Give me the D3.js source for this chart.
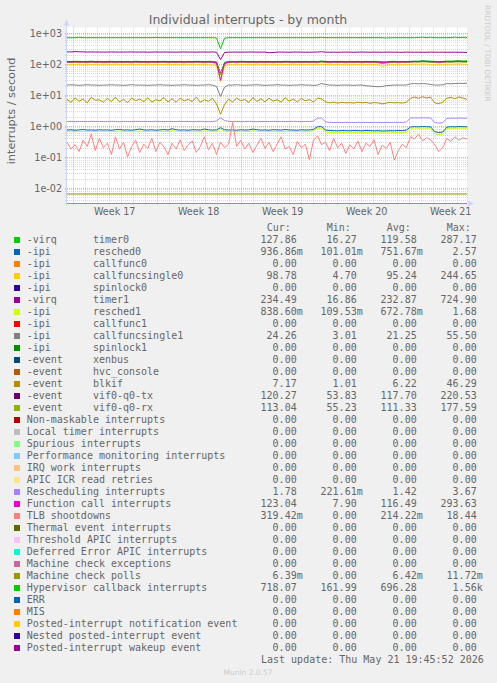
<!DOCTYPE html>
<html><head><meta charset="utf-8">
<script src="https://cdn.jsdelivr.net/npm/d3@7"></script>
<style>
html,body{margin:0;padding:0;background:#f0f0f0;}
svg{display:block;}
text{font-family:"DejaVu Sans",sans-serif;fill:#666;}
.mono{font-family:"DejaVu Sans Mono",monospace;font-size:10px;white-space:pre;}
</style></head><body><svg id="c" width="497" height="683"></svg>
<script>
// ---------------- DATA ----------------
const title = "Individual interrupts - by month";
const yLabel = "interrupts / second";
const weekLabels = ["Week 17","Week 18","Week 19","Week 20","Week 21"];
const yTickValues = [1e3,1e2,1e1,1e0,1e-1,1e-2];
const yTickLabels = ["1e+03","1e+02","1e+01","1e+00","1e-01","1e-02"];

const labels = [
"-virq      timer0","-ipi       resched0","-ipi       callfunc0","-ipi       callfuncsingle0",
"-ipi       spinlock0","-virq      timer1","-ipi       resched1","-ipi       callfunc1",
"-ipi       callfuncsingle1","-ipi       spinlock1","-event     xenbus","-event     hvc_console",
"-event     blkif","-event     vif0-q0-tx","-event     vif0-q0-rx","Non-maskable interrupts",
"Local timer interrupts","Spurious interrupts","Performance monitoring interrupts","IRQ work interrupts",
"APIC ICR read retries","Rescheduling interrupts","Function call interrupts","TLB shootdowns",
"Thermal event interrupts","Threshold APIC interrupts","Deferred Error APIC interrupts","Machine check exceptions",
"Machine check polls","Hypervisor callback interrupts","ERR","MIS",
"Posted-interrupt notification event","Nested posted-interrupt event","Posted-interrupt wakeup event"];

const colors = ["#00CC00","#0066B3","#FF8000","#FFCC00","#330099","#990099","#CCFF00","#FF0000",
"#808080","#008F00","#00487D","#B35A00","#B38F00","#6B006B","#8FB300","#B30000","#BEBEBE","#80FF80",
"#80C9FF","#FFC080","#FFE680","#AA80FF","#EE00CC","#FF8080","#666600","#FFBFFF","#00FFCC","#CC6699",
"#999900","#00CC00","#0066B3","#FF8000","#FFCC00","#330099","#990099"];

const curVals = ["127.86","936.86m","0.00","98.78","0.00","234.49","838.60m","0.00","24.26","0.00","0.00","0.00",
"7.17","120.27","113.04","0.00","0.00","0.00","0.00","0.00","0.00","1.78","123.04","319.42m","0.00","0.00","0.00",
"0.00","6.39m","718.07","0.00","0.00","0.00","0.00","0.00"];
const minVals = ["16.27","101.01m","0.00","4.70","0.00","16.86","109.53m","0.00","3.01","0.00","0.00","0.00",
"1.01","53.83","55.23","0.00","0.00","0.00","0.00","0.00","0.00","221.61m","7.90","0.00","0.00","0.00","0.00",
"0.00","0.00","161.99","0.00","0.00","0.00","0.00","0.00"];
const avgVals = ["119.58","751.67m","0.00","95.24","0.00","232.87","672.78m","0.00","21.25","0.00","0.00","0.00",
"6.22","117.70","111.33","0.00","0.00","0.00","0.00","0.00","0.00","1.42","116.49","214.22m","0.00","0.00","0.00",
"0.00","6.42m","696.28","0.00","0.00","0.00","0.00","0.00"];
const maxVals = ["287.17","2.57","0.00","244.65","0.00","724.90","1.68","0.00","55.50","0.00","0.00","0.00",
"46.29","220.53","177.59","0.00","0.00","0.00","0.00","0.00","0.00","3.67","293.63","18.44","0.00","0.00","0.00",
"0.00","11.72m","1.56k","0.00","0.00","0.00","0.00","0.00"];

// series samples, evenly spaced over the month window
const timer0Vals = [122,121,123,122,121,122,124,121,122,121, 122,123,121,122,121,122,121,123,122,121,
 121,122,121,122,123,121,122,121,122,121, 122,121,123,122,121,122,121,118,45,115,
 121,122,121,123,122,121,122,121,122,121, 122,121,122,121,123,122,121,122,121,122,
 121,122,121,126,122,121,122,121,122,121, 122,121,122,121,122,121,122,121,120,119,
 121,122,121,122,121,123,125,124,128,126, 124,122,121,122,125,124,126,127,125,128];
const resched0Vals = [0.74,0.76,0.73,0.75,0.77,0.74,0.75,0.73,0.76,0.74, 0.75,0.73,0.76,0.78,0.74,0.75,0.73,0.76,0.80,0.75,
 0.74,0.76,0.73,0.75,0.77,0.74,0.82,0.76,0.74,0.75, 0.73,0.76,0.75,0.74,0.80,0.76,0.74,0.75,0.88,0.76,
 0.74,0.75,0.73,0.76,0.74,0.75,0.80,0.76,0.74,0.75, 0.73,0.76,0.75,0.74,0.77,0.75,0.74,0.73,0.76,0.74,
 0.75,0.78,0.95,0.96,0.74,0.72,0.71,0.70,0.72,0.71, 0.70,0.72,0.71,0.70,0.72,0.71,0.70,0.71,0.69,0.70,
 0.71,0.70,0.72,0.71,0.74,0.93,0.95,0.94,0.96,0.95, 0.94,0.66,0.62,0.64,0.92,0.95,0.94,0.96,0.95,0.94];
const cfs0Vals = [96,95,97,94,96,93,98,95,96,94, 95,96,94,96,95,96,94,97,95,96,
 94,96,95,96,97,94,96,95,96,94, 96,95,97,96,94,96,95,88,27,85,
 95,96,94,97,96,95,96,94,96,95, 96,94,96,95,97,96,94,96,95,96,
 95,96,94,99,96,94,96,95,96,94, 96,95,96,94,96,95,96,94,85,90,
 95,96,94,96,95,97,100,98,101,99, 97,95,94,96,99,98,100,101,99,98];
const timer1Vals = [248,246,252,250,247,245,246,244,245,243, 244,246,245,243,244,245,246,243,244,245,
 242,244,246,243,245,244,243,242,244,245, 243,244,242,245,244,243,246,240,140,236,
 242,243,244,242,243,245,244,242,243,244, 232,236,243,244,242,241,243,244,242,241,
 242,243,244,250,242,241,243,240,242,243, 242,241,243,244,242,241,243,242,241,242,
 243,242,241,240,242,243,241,242,240,241, 243,242,241,242,240,241,242,240,241,235];
const resched1Vals = [0.66,0.67,0.65,0.68,0.66,0.67,0.65,0.67,0.66,0.68, 0.67,0.65,0.66,0.69,0.66,0.67,0.65,0.66,0.70,0.67,
 0.66,0.67,0.65,0.67,0.68,0.66,0.72,0.67,0.66,0.67, 0.65,0.67,0.66,0.65,0.70,0.67,0.66,0.66,0.80,0.67,
 0.66,0.67,0.65,0.67,0.66,0.67,0.71,0.67,0.66,0.67, 0.65,0.67,0.66,0.65,0.68,0.67,0.66,0.65,0.67,0.66,
 0.66,0.70,0.86,0.85,0.64,0.62,0.61,0.60,0.62,0.61, 0.60,0.62,0.61,0.60,0.62,0.61,0.60,0.61,0.59,0.60,
 0.61,0.60,0.62,0.61,0.64,0.84,0.86,0.85,0.85,0.84, 0.80,0.56,0.53,0.55,0.83,0.85,0.84,0.86,0.85,0.84];
const cfs1Vals = [21,21.5,21,20.5,21,21.5,21,21,20.5,21, 21,21.5,21,21,20.5,21,21.5,21,21,21,
 20.5,21,21,21.5,21,21,20.5,21,21,21.5, 21,21,20.5,21,21,21.5,21,19,9,18,
 21,21,21.5,21,20.5,21,21,21.5,21,20.5, 21,21,21.5,21,21,20.5,21,21,21.5,21,
 21,20.5,21,23.5,22,21,21,20.5,21,21, 21,20.5,21,21,20,19.5,19,18.5,19,20,
 20.5,21,21,21,21,23,23.5,23,23.5,23, 22,21,21,21.5,23.5,23,23.5,24,23.5,24.2];
const blkifVals = [7.2,5.8,8.1,6.3,7.5,5.6,8.4,6.8,7.0,5.9, 7.8,6.2,8.5,6.0,7.3,5.7,8.0,6.6,7.4,6.1,
 8.2,5.9,7.1,6.4,8.3,6.0,7.6,5.8,7.9,6.5, 7.3,6.1,8.6,5.9,7.0,6.3,7.8,5.2,2.4,5.0,
 7.4,6.0,8.0,6.5,7.2,5.8,8.3,6.2,7.6,6.0, 7.9,6.4,7.1,5.9,8.2,6.3,7.4,6.0,7.8,6.5,
 7.2,5.9,8.0,7.5,6.0,5.6,5.9,5.5,5.8,5.6, 5.7,5.5,5.9,5.6,5.8,5.4,5.7,5.6,5.2,5.5,
 5.8,5.6,5.7,5.5,5.9,7.8,8.6,7.9,8.8,8.1, 8.5,5.6,5.3,5.8,7.9,8.4,7.6,8.7,8.0,7.2];
const vifTxVals = [118,117,119,117,118,116,120,117,118,116, 117,118,116,118,117,118,116,119,117,118,
 116,118,117,118,119,116,118,117,118,116, 118,117,119,118,116,118,117,110,50,105,
 117,118,116,119,118,117,118,116,118,117, 118,116,118,117,119,118,116,118,117,118,
 117,118,116,121,118,116,118,117,118,116, 118,117,118,116,118,117,118,116,108,112,
 117,118,116,118,117,119,121,120,123,121, 119,117,116,118,121,120,122,123,121,120];
const vifRxVals = [112,111,113,111,112,110,114,111,112,110, 111,112,110,112,111,112,110,113,111,112,
 110,112,111,112,113,110,112,111,112,110, 112,111,113,112,110,112,111,105,48,100,
 111,112,110,113,112,111,112,110,112,111, 112,110,112,111,113,112,110,112,111,112,
 111,112,110,116,112,110,112,111,112,110, 112,111,112,110,112,111,112,110,104,108,
 111,112,110,112,111,114,116,115,118,116, 114,112,110,112,115,114,116,117,115,113];
const reschedVals = [1.40,1.42,1.38,1.41,1.40,1.39,1.42,1.40,1.41,1.39, 1.40,1.42,1.40,1.38,1.41,1.40,1.39,1.42,1.40,1.41,
 1.39,1.40,1.42,1.40,1.38,1.41,1.40,1.39,1.42,1.40, 1.41,1.39,1.40,1.42,1.40,1.38,1.41,1.45,1.85,1.50,
 1.42,1.40,1.41,1.39,1.40,1.42,1.40,1.38,1.41,1.40, 1.39,1.42,1.40,1.41,1.39,1.40,1.42,1.40,1.38,1.41,
 1.40,1.45,1.80,1.82,1.35,1.32,1.30,1.31,1.30,1.32, 1.31,1.30,1.32,1.30,1.31,1.30,1.32,1.31,1.30,1.31,
 1.30,1.32,1.31,1.30,1.35,1.80,1.84,1.82,1.85,1.83, 1.81,1.30,1.25,1.28,1.75,1.80,1.78,1.82,1.79,1.78];
const funcCallVals = [117,116,118,116,117,116,119,116,117,116, 116,117,116,117,116,117,116,118,116,117,
 116,117,116,117,118,116,117,116,117,116, 117,116,118,117,116,117,116,112,30,108,
 116,117,116,118,117,116,117,116,117,116, 117,116,117,116,118,117,116,117,116,117,
 116,117,116,120,117,116,117,116,117,116, 117,116,117,116,117,116,117,116,113,114,
 116,117,116,117,116,118,120,119,122,121, 119,117,116,117,120,119,121,122,120,123];
const tlbVals = [0.30,0.18,0.25,0.15,0.35,0.22,0.55,0.16,0.40,0.20, 0.28,0.12,0.45,0.18,0.30,0.10,0.22,0.35,0.14,0.26,
 0.19,0.40,0.15,0.30,0.21,0.12,0.28,0.18,0.36,0.16, 0.25,0.33,0.14,0.22,0.45,0.17,0.28,0.12,0.30,0.20,
 0.26,1.30,0.22,0.35,0.18,0.28,0.14,0.24,0.40,0.19, 0.30,0.15,0.26,0.45,0.18,0.22,0.12,0.32,0.20,0.26,
 0.08,0.35,0.48,0.25,0.30,0.16,0.40,0.20,0.28,0.13, 0.25,0.18,0.33,0.15,0.28,0.22,0.36,0.12,0.24,0.19,
 0.30,0.08,0.16,0.26,0.20,0.45,0.38,0.55,0.33,0.42, 0.36,0.25,0.15,0.20,0.40,0.32,0.45,0.35,0.42,0.38];
const mcpVals = [0.0064,0.0064,0.0064,0.0064,0.0064,0.0064,0.0064,0.0064,0.0064,0.0064];
const hyperVals = [712,712,712,735,712,712,712,712,712,712, 712,712,712,712,712,712,712,712,712,712,
 712,712,730,712,712,712,712,712,712,712, 712,712,712,712,712,712,712,700,310,690,
 712,712,712,712,712,712,712,712,712,712, 712,712,712,712,712,712,712,712,712,712,
 712,712,712,730,712,712,712,712,712,712, 712,712,712,712,712,712,712,712,712,695,
 712,712,712,712,712,712,712,725,740,712, 735,712,712,712,712,712,740,712,735,718];
const zeroVals = [0, 0];

// table built from the arrays above (legend order = drawing order)
const seriesData = [timer0Vals,resched0Vals,zeroVals,cfs0Vals,zeroVals,timer1Vals,resched1Vals,zeroVals,
 cfs1Vals,zeroVals,zeroVals,zeroVals,blkifVals,vifTxVals,vifRxVals,zeroVals,zeroVals,zeroVals,zeroVals,zeroVals,
 zeroVals,reschedVals,funcCallVals,tlbVals,zeroVals,zeroVals,zeroVals,zeroVals,mcpVals,hyperVals,
 zeroVals,zeroVals,zeroVals,zeroVals,zeroVals];

// ---------------- CHART ----------------
const svg = d3.select("#c");
svg.append("rect").attr("width",497).attr("height",683).attr("fill","#f0f0f0");

const P = {left:67, right:467, top:27.5, bottom:203.5};
const yMin = Math.pow(10,-2.5), yMax = Math.pow(10,3.18);
const tStart = new Date(Date.UTC(2026,3,19,12,36));
const tEnd = new Date(Date.UTC(2026,4,22,20,36));
const x = d3.scaleUtc().domain([tStart,tEnd]).range([P.left,P.right]);
const y = d3.scaleLog().domain([yMin,yMax]).range([P.bottom,P.top]).clamp(true);

svg.append("rect").attr("x",P.left).attr("y",P.top).attr("width",P.right-P.left).attr("height",P.bottom-P.top).attr("fill","#fff");

const grid = svg.append("g");
const minorC = "rgba(140,140,140,0.33)", majorC = "rgba(224,80,80,0.45)";
// horizontal minor
for (let e=-3;e<=3;e++){ for(let m=2;m<=9;m++){ const v=m*Math.pow(10,e);
  if(v>yMin && v<yMax){ const yy=Math.round(y(v))+0.5;
    grid.append("line").attr("x1",P.left-2).attr("x2",P.right+2).attr("y1",yy).attr("y2",yy)
      .attr("stroke",minorC).attr("stroke-dasharray","1,1"); } } }
// vertical minor (days)
const mondays = d3.utcMonday.range(tStart,tEnd);
d3.utcDay.range(tStart,tEnd).forEach(d=>{ if(d.getUTCDay()===1) return; const xx=Math.round(x(d))+0.5;
  grid.append("line").attr("x1",xx).attr("x2",xx).attr("y1",P.top).attr("y2",P.bottom+2)
    .attr("stroke",minorC).attr("stroke-dasharray","1,1"); });
// horizontal major
yTickValues.forEach(v=>{ const yy=Math.round(y(v))+0.5;
  grid.append("line").attr("x1",P.left-2).attr("x2",P.right+2).attr("y1",yy).attr("y2",yy)
    .attr("stroke",majorC).attr("stroke-dasharray","1,1"); });
// vertical major (weeks)
mondays.forEach(d=>{ const xx=Math.round(x(d))+0.5;
  grid.append("line").attr("x1",xx).attr("x2",xx).attr("y1",P.top).attr("y2",P.bottom+2)
    .attr("stroke",majorC).attr("stroke-dasharray","1,1"); });

// series
svg.append("clipPath").attr("id","pc").append("rect")
  .attr("x",P.left).attr("y",P.top-1).attr("width",P.right-P.left).attr("height",P.bottom-P.top+2);
const lines = svg.append("g").attr("clip-path","url(#pc)");
seriesData.forEach((vals,k)=>{
  const n = vals.length;
  const tAt = i => new Date(+tStart + i*(tEnd-tStart)/(n-1));
  const line = d3.line().x((d,i)=>x(tAt(i))).y(d=>y(Math.max(d,yMin)));
  lines.append("path").attr("d",line(vals)).attr("fill","none").attr("stroke",colors[k]).attr("stroke-width",1);
});

// axes
const axC = "#CFD6F8";
svg.append("line").attr("x1",P.left-3).attr("x2",P.right+3).attr("y1",P.bottom).attr("y2",P.bottom).attr("stroke",axC).attr("opacity",0.55);
svg.append("line").attr("x1",P.left-0.5).attr("x2",P.left-0.5).attr("y1",P.bottom+2).attr("y2",P.top-4).attr("stroke",axC);
svg.append("path").attr("d",`M${P.left-3.5},${P.top-2} L${P.left+2.5},${P.top-2} L${P.left-0.5},${P.top-8} Z`).attr("fill",axC);
svg.append("path").attr("d",`M${P.right+1},${P.bottom-3} L${P.right+1},${P.bottom+3} L${P.right+7},${P.bottom} Z`).attr("fill",axC);

// tick labels
yTickValues.forEach((v,i)=>{ svg.append("text").attr("x",62).attr("y",y(v)+3.5).attr("text-anchor","end")
  .attr("font-size","9.6px").text(yTickLabels[i]); });
mondays.forEach((d,i)=>{ const mid = d3.utcHour.offset(d,84);
  svg.append("text").attr("x",x(mid)).attr("y",215).attr("text-anchor","middle").attr("font-size","9.6px").text(weekLabels[i]); });

// title & labels
svg.append("text").attr("x",248).attr("y",24).attr("text-anchor","middle").attr("font-size","12.5px").text(title);
svg.append("text").attr("transform","translate(15,111) rotate(-90)").attr("text-anchor","middle").attr("font-size","11.3px").text(yLabel);
svg.append("text").attr("transform","translate(485,5) rotate(90)").attr("font-size","7.5px").style("fill","#ccc").text("RRDTOOL / TOBI OETIKER");

// legend
const hdrX = [266.7,326.7,386.7,446.7], hdr = ["Cur:","Min:","Avg:","Max:"];
hdr.forEach((h,i)=>svg.append("text").attr("class","mono").attr("x",hdrX[i]).attr("y",231.3).text(h));
const colEnd = [296.7,356.7,416.7,476.7];
const cols = [curVals,minVals,avgVals,maxVals];
labels.forEach((lab,i)=>{
  const by = 243.3 + 12*i;
  svg.append("rect").attr("x",14).attr("y",by-6.3).attr("width",6).attr("height",6).attr("fill",colors[i]);
  svg.append("text").attr("class","mono").attr("xml:space","preserve").attr("x",26.7).attr("y",by).text(lab);
  cols.forEach((arr,c)=>{ const s = arr[i]; const suf = /[a-zA-Z]$/.test(s) ? s.slice(-1) : "";
    const num = suf ? s.slice(0,-1) : s;
    svg.append("text").attr("class","mono").attr("x",colEnd[c]).attr("y",by).attr("text-anchor","end").text(num);
    if (suf) svg.append("text").attr("class","mono").attr("x",colEnd[c]).attr("y",by).text(suf);
  });
});
svg.append("text").attr("class","mono").attr("x",261).attr("y",662.5).text("Last update: Thu May 21 19:45:52 2026");
svg.append("text").attr("x",248).attr("y",675).attr("text-anchor","middle").attr("font-size","7.5px").style("fill","#ccc").text("Munin 2.0.57");
</script></body></html>
